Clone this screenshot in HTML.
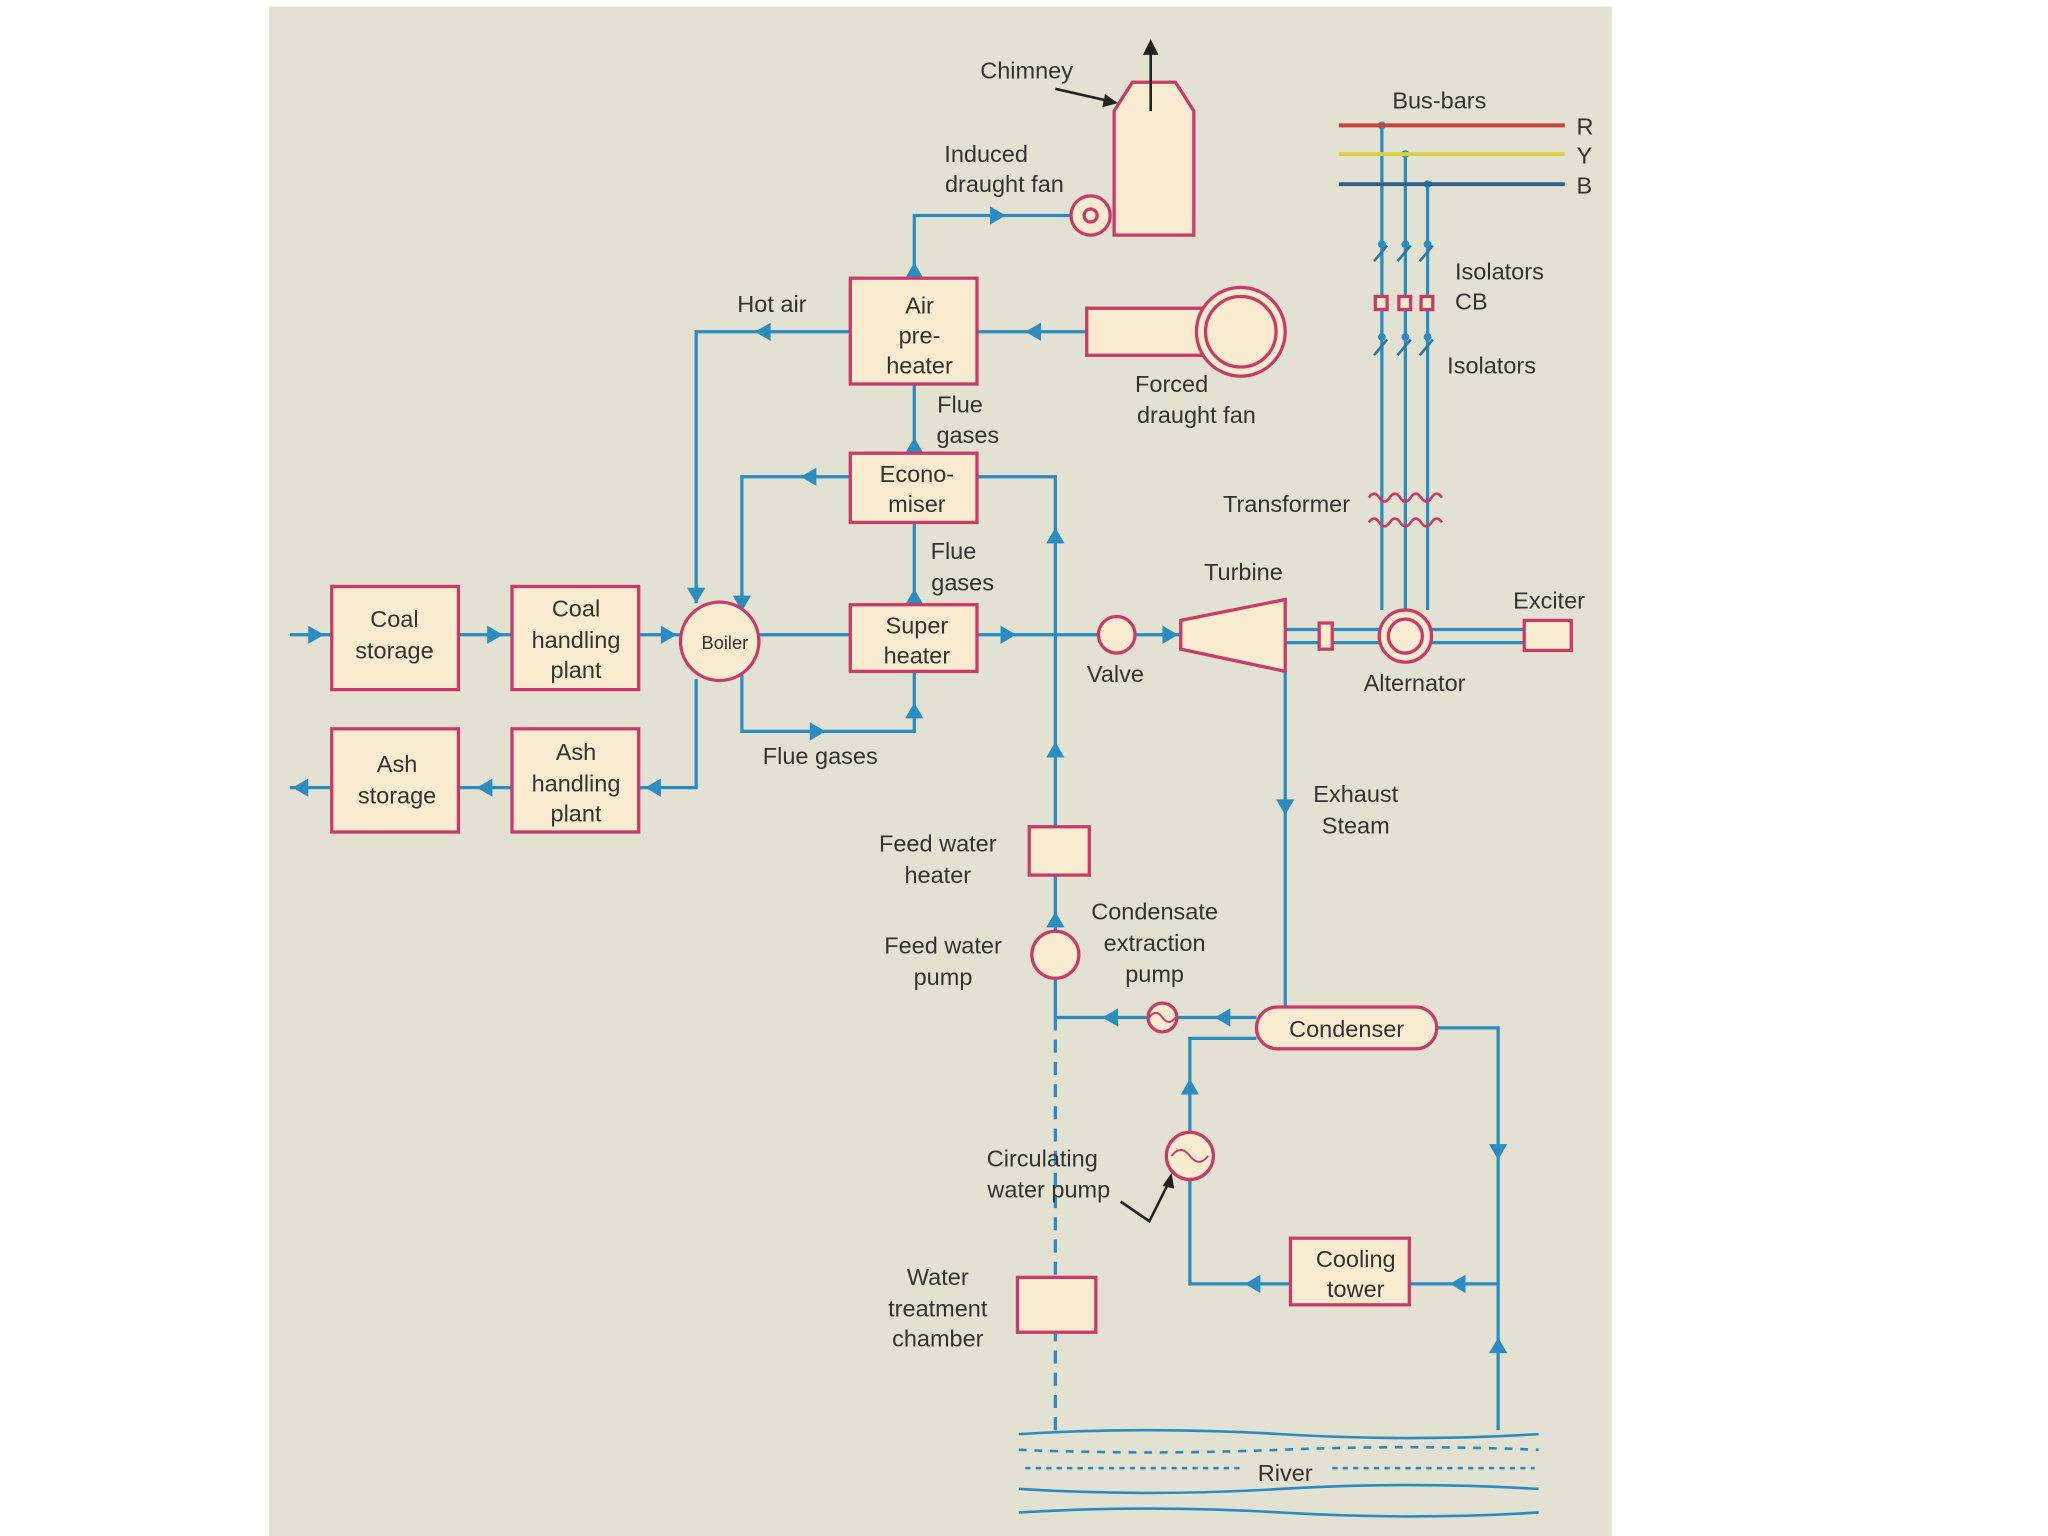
<!DOCTYPE html>
<html><head><meta charset="utf-8"><style>
html,body{margin:0;padding:0;background:#fff;}
svg{display:block;}
text{font-family:"Liberation Sans",sans-serif;font-size:18px;fill:#333;}
</style></head><body>
<svg width="2048" height="1536" viewBox="0 0 1568 1176" preserveAspectRatio="none" xmlns="http://www.w3.org/2000/svg">
<rect x="206" y="5" width="1028" height="1171" fill="#e3e1d1"/>
<g fill="none" stroke="#2a8cc0" stroke-width="2.5">
<path d="M222 486H254M351 486H392M489 486H521"/>
<path d="M581 486H651M748 486H841M869 486H904"/>
<path d="M254 603H222M392 603H351M533 520V603H489"/>
<path d="M651 254H533V462"/>
<path d="M832 254H748"/>
<path d="M700 213V165H820"/>
<path d="M700 347V294M700 463V400"/>
<path d="M651 365H568V470"/>
<path d="M568 515V560H700V514"/>
<path d="M748 365H808V779" />
<path d="M984 514V771"/>
<path d="M962 779H901M879 779H808"/>
<path d="M1100 787H1147V1095"/>
<path d="M1147 983H1079M988 983H911V903M911 867V795H962"/>
<path d="M984 482H1056M984 492H1056M1096 482H1167M1096 492H1167"/>
<path d="M1058 96V467M1076 118V467M1093 141V467"/>
</g>
<path d="M808 779V1095" stroke="#2a8cc0" stroke-width="2.5" stroke-dasharray="10,7"/>
<g fill="#2a8cc0">
<path d="M236 479l12 7-12 7z M373 479l12 7-12 7z M506 479l12 7-12 7z M766 479l12 7-12 7z M890 479l12 7-12 7z"/>
<path d="M236 596l-12 7 12 7z M377 596l-12 7 12 7z M506 596l-12 7 12 7z"/>
<path d="M590 247l-12 7 12 7z M797 247l-12 7 12 7z M625 358l-12 7 12 7z"/>
<path d="M758 158l12 7-12 7z M620 553l12 7-12 7z"/>
<path d="M693 213l7-12 7 12z M693 347l7-12 7 12z M693 463l7-12 7 12z M693 550l7-12 7 12z"/>
<path d="M526 450l7 12 7-12z M561 456l7 12 7-12z"/>
<path d="M801 416l7-12 7 12z M801 580l7-12 7 12z M801 710l7-12 7 12z M904 838l7-12 7 12z M1140 1036l7-12 7 12z"/>
<path d="M977 612l7 12 7-12z M1140 876l7 12 7-12z"/>
<path d="M942 772l-12 7 12 7z M856 772l-12 7 12 7z M965 976l-12 7 12 7z M1122 976l-12 7 12 7z"/>
<circle cx="1058" cy="96" r="3"/><circle cx="1076" cy="118" r="3"/><circle cx="1093" cy="141" r="3"/>
<circle cx="1058" cy="187" r="3"/><circle cx="1076" cy="187" r="3"/><circle cx="1093" cy="187" r="3"/>
<circle cx="1058" cy="258" r="3"/><circle cx="1076" cy="258" r="3"/><circle cx="1093" cy="258" r="3"/>
</g>
<g fill="#f8ebcf" stroke="#c93a66" stroke-width="2.5">
<rect x="254" y="449" width="97" height="79"/>
<rect x="392" y="449" width="97" height="79"/>
<rect x="254" y="558" width="97" height="79"/>
<rect x="392" y="558" width="97" height="79"/>
<rect x="651" y="463" width="97" height="51"/>
<rect x="651" y="347" width="97" height="53"/>
<rect x="651" y="213" width="97" height="81"/>
<circle cx="551" cy="491" r="30"/>
<path d="M853 180V85L867 63H900L914 85V180Z"/>
<circle cx="835" cy="165" r="15"/><circle cx="835" cy="165" r="5"/>
<rect x="832" y="236" width="98" height="36"/>
<circle cx="950" cy="254" r="34"/><circle cx="950" cy="254" r="27"/>
<circle cx="855" cy="486" r="14"/>
<path d="M904 475L984 459V514L904 497Z"/>
<rect x="1010" y="477" width="10" height="20"/>
<circle cx="1076" cy="487" r="20"/><circle cx="1076" cy="487" r="13"/>
<rect x="1167" y="475" width="36" height="23"/>
<rect x="788" y="633" width="46" height="37"/>
<circle cx="808" cy="731" r="18"/>
<circle cx="890" cy="779" r="11"/>
<rect x="962" y="771" width="138" height="32" rx="16"/>
<circle cx="911" cy="885" r="18"/>
<rect x="988" y="948" width="91" height="51"/>
<rect x="779" y="978" width="60" height="42"/>
<rect x="1053" y="227" width="9" height="10"/><rect x="1071" y="227" width="9" height="10"/><rect x="1088" y="227" width="9" height="10"/>
</g>
<g fill="none" stroke="#c93a66" stroke-width="1.5">
<path d="M897 885q7-9 14 0t14 0M880 779q5-7 10 0t10 0"/>
</g>
<path d="M1025 96H1198" stroke="#c8443c" stroke-width="3"/>
<path d="M1025 118H1198" stroke="#d8d040" stroke-width="3"/>
<path d="M1025 141H1198" stroke="#2f5f8f" stroke-width="3"/>
<g stroke="#2a7aa0" stroke-width="2" fill="none">
<path d="M1052 200l10-12M1070 200l10-12M1087 200l10-12M1052 272l10-12M1070 272l10-12M1087 272l10-12"/>
<path d="M1048 381q4-6 8 0t8 0 8 0 8 0 8 0 8 0 8 0M1048 400q4-6 8 0t8 0 8 0 8 0 8 0 8 0 8 0" stroke="#c93a66"/>
</g>
<path d="M881 85V38" stroke="#222" stroke-width="2"/><path d="M875 42l6-12 6 12z" fill="#222"/>
<path d="M808 68L852 78" stroke="#222" stroke-width="2"/><path d="M846 72l10 7-12 3z" fill="#222"/>
<path d="M858 920L880 935L895 905" stroke="#222" stroke-width="2" fill="none"/><path d="M890 908l7-10 2 12z" fill="#222"/>
<g fill="none" stroke="#2a8cc0" stroke-width="2">
<path d="M780 1098q100-6 200 0t198 0"/>
<path d="M780 1110q100 4 200 0t198 0" stroke-dasharray="6,6"/>
<path d="M785 1124H950M1020 1124H1175" stroke-dasharray="4,4"/>
<path d="M780 1140q100 6 200 0t198 0"/>
<path d="M780 1158q100-6 200 0t198 0"/>
</g>
<g text-anchor="middle">
<text x="302" y="480">Coal</text><text x="302" y="504">storage</text>
<text x="441" y="472">Coal</text><text x="441" y="496">handling</text><text x="441" y="519">plant</text>
<text x="304" y="591">Ash</text><text x="304" y="615">storage</text>
<text x="441" y="582">Ash</text><text x="441" y="606">handling</text><text x="441" y="629">plant</text>
<text x="555" y="497" style="font-size:14px">Boiler</text>
<text x="702" y="485">Super</text><text x="702" y="508">heater</text>
<text x="702" y="369">Econo-</text><text x="702" y="392">miser</text>
<text x="704" y="240">Air</text><text x="704" y="263">pre-</text><text x="704" y="286">heater</text>
<text x="735" y="316">Flue</text><text x="741" y="339">gases</text>
<text x="730" y="428">Flue</text><text x="737" y="452">gases</text>
<text x="628" y="585">Flue gases</text>
<text x="591" y="239">Hot air</text>
<text x="786" y="60">Chimney</text>
<text x="755" y="124">Induced</text><text x="769" y="147">draught fan</text>
<text x="897" y="300">Forced</text><text x="916" y="324">draught fan</text>
<text x="1102" y="83">Bus-bars</text>
<text x="985" y="392">Transformer</text>
<text x="952" y="444">Turbine</text>
<text x="1186" y="466">Exciter</text>
<text x="854" y="522">Valve</text>
<text x="1083" y="529">Alternator</text>
<text x="1038" y="614">Exhaust</text><text x="1038" y="638">Steam</text>
<text x="718" y="652">Feed water</text><text x="718" y="676">heater</text>
<text x="722" y="730">Feed water</text><text x="722" y="754">pump</text>
<text x="884" y="704">Condensate</text><text x="884" y="728">extraction</text><text x="884" y="752">pump</text>
<text x="1031" y="794">Condenser</text>
<text x="798" y="893">Circulating</text><text x="803" y="917">water pump</text>
<text x="1038" y="970">Cooling</text><text x="1038" y="993">tower</text>
<text x="718" y="984">Water</text><text x="718" y="1008">treatment</text><text x="718" y="1031">chamber</text>
<text x="984" y="1134">River</text>
</g>
<text x="1114" y="214">Isolators</text><text x="1114" y="237">CB</text><text x="1108" y="286">Isolators</text>
<text x="1207" y="103">R</text><text x="1207" y="125">Y</text><text x="1207" y="148">B</text>
</svg>
</body></html>
